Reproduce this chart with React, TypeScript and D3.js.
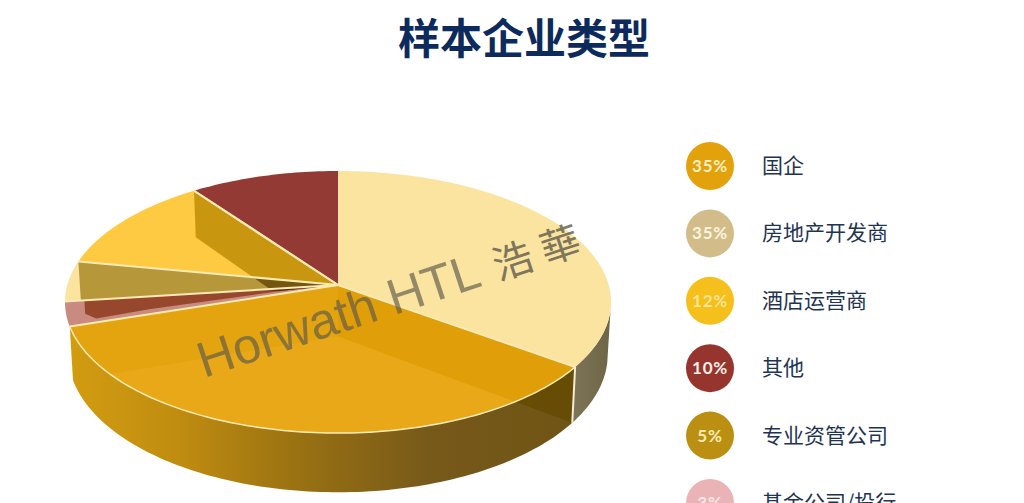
import React from "react";
import * as d3 from "d3";

const title = "样本企业类型";
const legendLabels = ["国企", "房地产开发商", "酒店运营商", "其他", "专业资管公司", "基金公司/投行"];
const legendValues = [35, 35, 12, 10, 5, 3];
const legendColors = ["#e3a20c", "#d2bd8a", "#f5bf1c", "#96352e", "#bb9012", "#eab4b6"];
const legendTextColors = ["#fdeec2", "#fbf3dc", "#fde58f", "#fbeee6", "#fbeab0", "#fbe6e6"];
// clockwise from 12 o'clock
const sliceKeys = ["房地产开发商", "国企", "基金公司/投行", "专业资管公司", "酒店运营商", "其他"];
const sliceValues = [35, 35, 3, 5, 12, 10];
const sliceTops = ["#fbe3a0", "#e8a818", "#c98a80", "#fbe3a0", "#fdca42", "#933a34"];
const sliceInner = ["#fbe3a0", "#e09e08", "#97472b", "#b6973a", "#c9960f", "#933a34"];

const W = 1024, H = 503;
const cx = 338, cy = 285, R = 270.7, S = 128.8, K = 0.13, D = 51.5;

const proj = (a: number, r = 1, drop = 0): [number, number] => {
  const u = Math.sin(a) * r, v = -Math.cos(a) * r, w = 1 - K * v;
  const shrink = drop > 0 ? 1 - (0.012 * drop) / D : 1;
  return [cx + ((R * u) / w) * shrink, cy + (S * v + drop) / w];
};
const arcPts = (a0: number, a1: number, drop = 0) => {
  const n = Math.max(2, Math.ceil(Math.abs(a1 - a0) / 0.02));
  return d3.range(n + 1).map((i) => proj(a0 + ((a1 - a0) * i) / n, 1, drop));
};
const line = d3.line();
const arcs = d3.pie<number>().sort(null)(sliceValues);

const path = (pts: [number, number][]) => line(pts) + "Z";

export default function App() {
  const light = arcs[0], gold = arcs[1];
  const apex = proj(0, 0);
  const apexD = proj(0, 0, D);
  const wallPath = (a: number, b: number) => path([...arcPts(a, b), ...arcPts(a, b, D).reverse()]);
  const pinkEnd = arcs[2].endAngle, pinkStart = arcs[2].startAngle;
  return (
    <svg width={W} height={H} viewBox={`0 0 ${W} ${H}`} style={{ position: "absolute", left: 0, top: 0, background: "#fff" }}>
      <defs>
        <linearGradient id="goldWall" gradientUnits="userSpaceOnUse" x1={70} x2={570} y1={0} y2={0}>
          <stop offset="0" stopColor="#d29c10" />
          <stop offset="0.22" stopColor="#c08c10" />
          <stop offset="0.45" stopColor="#9a7212" />
          <stop offset="0.72" stopColor="#77591a" />
          <stop offset="1" stopColor="#6f5515" />
        </linearGradient>
        <linearGradient id="lightWall" gradientUnits="userSpaceOnUse" x1={573} x2={612} y1={0} y2={0}>
          <stop offset="0" stopColor="#7d7459" />
          <stop offset="1" stopColor="#6d6544" />
        </linearGradient>
        {arcs.map((d, i) => (
          <clipPath key={i} id={`top${i}`}>
            <path d={path([apex, ...arcPts(d.startAngle, d.endAngle)])} />
          </clipPath>
        ))}
        <clipPath id="goldW">
          <path d={wallPath(gold.startAngle, gold.endAngle)} />
        </clipPath>
      </defs>

      <text x={524} y={54} textAnchor="middle" fontFamily="'Noto Sans CJK SC'" fontWeight={700} fontSize={42} fill="#0c2a5c">{title}</text>

      {/* outer walls */}
      <path d={wallPath(Math.PI * 0.56, light.endAngle)} fill="url(#lightWall)" />
      <path d={wallPath(gold.startAngle, gold.endAngle)} fill="url(#goldWall)" />
      <path d={path([proj(gold.startAngle), proj(gold.startAngle, 1, D), apexD])} clipPath="url(#goldW)" fill="#664c05" />

      {/* top faces */}
      {arcs.map((d, i) => (
        <path key={sliceKeys[i]} d={path([apex, ...arcPts(d.startAngle, d.endAngle)])} fill={sliceTops[i]} />
      ))}

      {/* inner walls seen through the top faces */}
      <g clipPath="url(#top1)">
        <path d={path([apex, proj(gold.startAngle), proj(gold.startAngle, 1, D), apexD])} fill={sliceInner[1]} />
        <path d={path([apex, apexD, proj(gold.endAngle, 1, D), proj(gold.endAngle)])} fill="#e4a410" />
      </g>
      <g clipPath="url(#top2)">
        <path d={path([apex, proj(pinkEnd, 0.93), proj(pinkEnd, 0.93, D * 0.26), proj(pinkStart + 0.03, 0.9), proj(pinkStart + 0.05, 0.7), proj(pinkStart + 0.1, 0.2)])} fill={sliceInner[2]} />
        <path d={path([apex, proj(pinkEnd, 0.28), proj(pinkStart + 0.1, 0.22)])} fill="#4f2a0f" />
      </g>
      {[3, 4].map((i) => {
        const a = arcs[i].endAngle;
        return (
          <g key={i} clipPath={`url(#top${i})`}>
            <path d={path([apex, proj(a), proj(a, 1, D), apexD])} fill={sliceInner[i]} />
          </g>
        );
      })}
      <g clipPath="url(#top3)">
        <path d={path([proj(arcs[4].endAngle), proj(arcs[4].endAngle, 1, D), apexD, apex])} fill="#74560e" />
      </g>

      {/* cream rim lines */}
      {arcs.slice(1).map((d, i) => (
        <path key={i} d={line([apex, proj(d.startAngle)]) as string} fill="none" stroke="#fdeab5" strokeWidth={2} />
      ))}
      <path d={line([apex, proj(arcs[5].startAngle)]) as string} fill="none" stroke="#fdeab5" strokeWidth={2} />
      <path d={line(arcPts(gold.startAngle, gold.endAngle)) as string} fill="none" stroke="#fdeab5" strokeWidth={1.5} />
      <path d={line([proj(light.endAngle), proj(light.endAngle, 1, D)]) as string} fill="none" stroke="#f3ecd6" strokeWidth={2} />

      {/* watermark */}
      <g transform="translate(204,378) rotate(-18.3)" fill="#5d5a4a" fillOpacity={0.66}>
        <text fontFamily="'Liberation Sans'" fontSize={50}>Horwath HTL</text>
        <text x={310} y={0} fontFamily="'Noto Sans CJK TC'" fontSize={40} letterSpacing={10} fillOpacity={0.8}>浩華</text>
      </g>

      {/* legend */}
      {legendLabels.map((l, i) => {
        const y = d3.scaleLinear().domain([0, 5]).range([166, 503])(i);
        return (
          <g key={l}>
            <circle cx={710} cy={y} r={24} fill={legendColors[i]} />
            <text x={710} y={y + 6} textAnchor="middle" fontFamily="Lato" fontWeight={700} fontSize={17} letterSpacing={0.8} fill={legendTextColors[i]}>{legendValues[i]}%</text>
            <text x={762} y={y + 7} fontFamily="'Noto Sans CJK SC'" fontSize={21} fill="#1f3450">{l}</text>
          </g>
        );
      })}
    </svg>
  );
}
